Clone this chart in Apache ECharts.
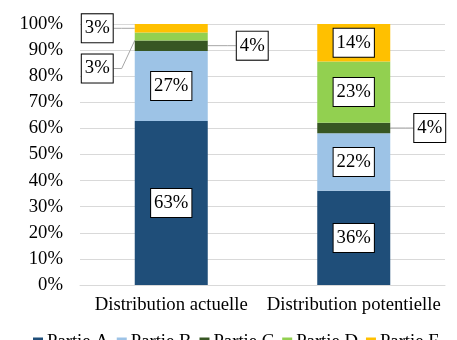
<!DOCTYPE html>
<html><head><meta charset="utf-8">
<script src="https://cdn.jsdelivr.net/npm/echarts@6/dist/echarts.min.js"></script>
<style>html,body{margin:0;padding:0;background:#fff}#c{width:457px;height:340px}</style>
</head><body><div id="c"></div>
<script>
const categories = ['Distribution actuelle', 'Distribution potentielle'];
const seriesNames = ['Partie A', 'Partie B', 'Partie C', 'Partie D', 'Partie E'];
const partA = [62.8, 36.1];
const partB = [26.9, 22.0];
const partC = [4.0, 4.1];
const partD = [3.0, 23.4];
const partE = [3.3, 14.4];
const yTicks = [0, 10, 20, 30, 40, 50, 60, 70, 80, 90, 100];
const colors = ['#1F4E79', '#9DC3E6', '#375623', '#92D050', '#FFC000'];

// label offsets (moved outside the bar with guide lines), keyed by series/category index
const outside = {
  '2-0': {dx: 81, dy: 0},
  '3-0': {dx: -74, dy: 32},
  '4-0': {dx: -74, dy: 0},
  '2-1': {dx: 76, dy: 0}
};

const values = [partA, partB, partC, partD, partE];
const font = "'Liberation Serif', 'Times New Roman', serif";
const fs = 18.7;

const series = values.map((vals, si) => ({
  name: seriesNames[si],
  type: 'bar',
  stack: 'total',
  barWidth: '40%',
  itemStyle: {color: colors[si]},
  data: vals.map((v, ci) => {
    const item = {value: v};
    if (outside[si + '-' + ci]) item.labelLine = {show: true};
    return item;
  }),
  label: {
    show: true,
    position: 'inside',
    formatter: p => Math.round(p.value) + '%',
    fontFamily: font,
    fontSize: fs,
    color: '#000',
    backgroundColor: '#fff',
    borderColor: '#000',
    borderWidth: 1,
    padding: [4, 3, 4, 3],
    lineHeight: 20
  },
  labelLine: {show: false, length2: 8, lineStyle: {color: '#a6a6a6', width: 1}},
  labelLayout: function (params) {
    const o = outside[si + '-' + params.dataIndex];
    return o ? {dx: o.dx, dy: o.dy} : {};
  }
}));

const chart = echarts.init(document.getElementById('c'), null, {renderer: 'canvas'});
chart.setOption({
  animation: false,
  color: colors,
  grid: {left: 80, right: 12, top: 24, bottom: 55},
  legend: {
    data: seriesNames,
    left: 33,
    top: 333,
    padding: 0,
    icon: 'rect',
    itemWidth: 10,
    itemHeight: 10,
    itemGap: 8,
    textStyle: {fontFamily: font, fontSize: fs, color: '#000', padding: [0, 0, 0, -1]}
  },
  xAxis: {
    type: 'category',
    data: categories,
    axisTick: {show: false},
    axisLine: {show: true, lineStyle: {color: '#d9d9d9'}},
    axisLabel: {fontFamily: font, fontSize: fs, color: '#000', margin: 11, interval: 0}
  },
  yAxis: {
    type: 'value',
    min: yTicks[0],
    max: yTicks[yTicks.length - 1],
    interval: yTicks[1] - yTicks[0],
    axisLine: {show: false},
    axisTick: {show: false},
    splitLine: {lineStyle: {color: '#d9d9d9'}},
    axisLabel: {fontFamily: font, fontSize: fs, color: '#000', margin: 17, formatter: v => v + '%'}
  },
  series: series
});
</script></body></html>
